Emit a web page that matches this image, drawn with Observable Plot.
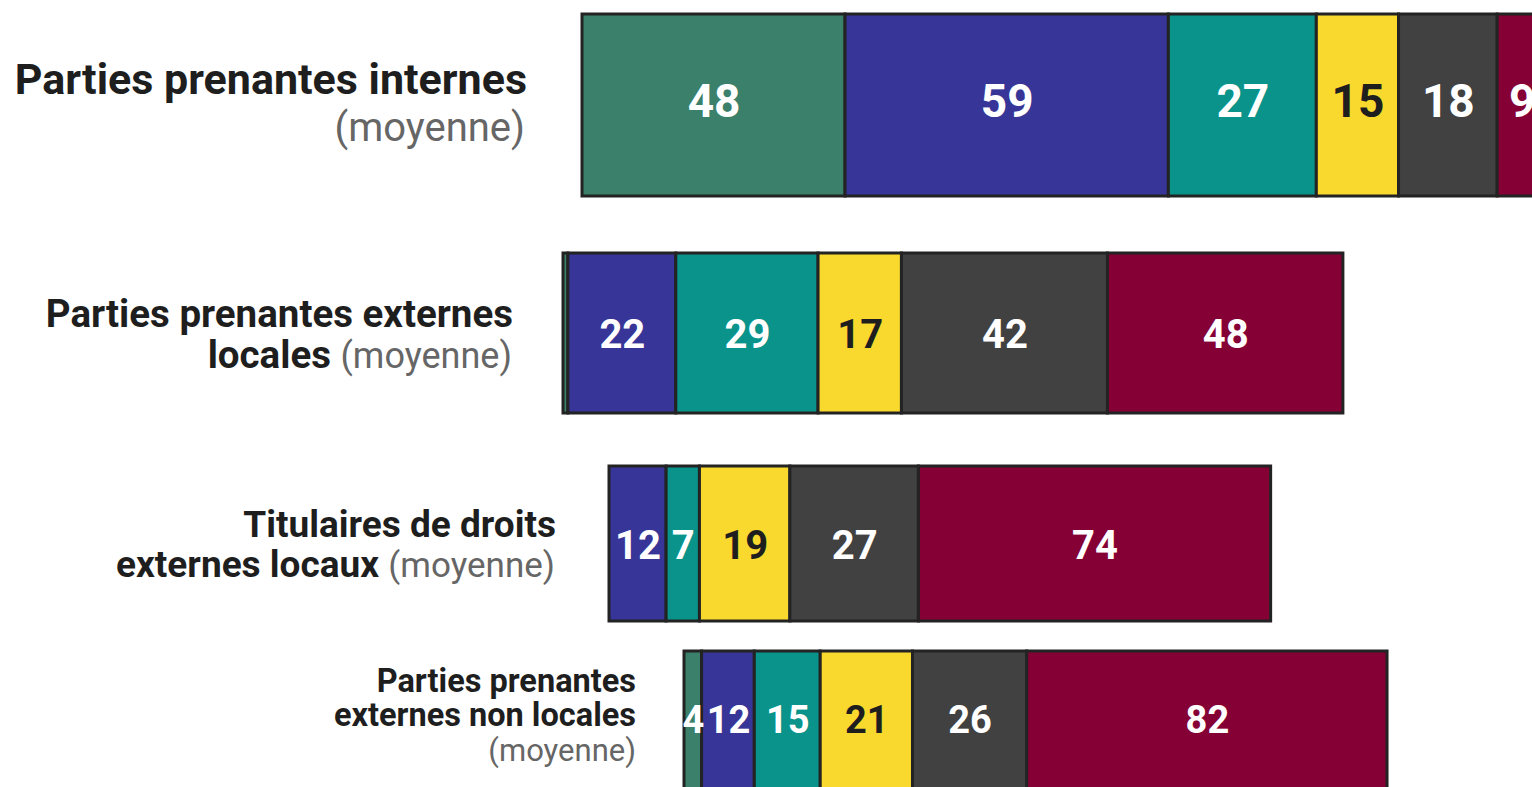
<!DOCTYPE html>
<html><head><meta charset="utf-8">
<script src="https://cdn.jsdelivr.net/npm/d3@7"></script>
<script src="https://cdn.jsdelivr.net/npm/@observablehq/plot@0.6"></script>
<style>
html,body{margin:0;padding:0;background:#fff;overflow:hidden;}
#chart{position:relative;width:1532px;height:787px;overflow:hidden;}
#chart svg{position:absolute;left:0;top:0;}
.lab{position:absolute;text-align:right;white-space:nowrap;font-family:Roboto,sans-serif;color:#1e1e1e;font-weight:700;}
.m{font-weight:400;color:#666;}
span.m{display:inline-block;line-height:0.9;}
</style></head><body><div id="chart"></div>
<script>
// ---- data ----
const rows = ["Parties prenantes internes", "Parties prenantes externes locales", "Titulaires de droits externes locaux", "Parties prenantes externes non locales"];
const categories = ["A", "B", "C", "D", "E", "F"];
const internes = [48, 59, 27, 15, 18, 9];
const externesLocales = [1, 22, 29, 17, 42, 48];
const titulaires = [0, 12, 7, 19, 27, 74];
const nonLocales = [4, 12, 15, 21, 26, 82];
const series = [internes, externesLocales, titulaires, nonLocales];

// ---- styles / layout ----
const palette = ["#3a806b", "#373597", "#09938a", "#f9d92e", "#414141", "#850035"];
const layout = [
  {x0: 582, k: 5.48, y: [13.5, 195.5], font: 46, dy: -3},
  {x0: 563, k: 4.905, y: [252.5, 412.5], font: 40, dy: 2},
  {x0: 609, k: 4.76, y: [465.5, 620.5], font: 40, dy: 2},
  {x0: 684, k: 4.394, y: [650.5, 795], font: 38, dy: -3}
];
// baseline-positioned label lines
const labels = [
  {right: 1005, base: 94, size: 43, cls: "", html: "Parties prenantes internes"},
  {right: 1007, base: 142, size: 40, cls: "m", html: "(moyenne)"},
  {right: 1019, base: 327, size: 38.5, cls: "", html: "Parties prenantes externes"},
  {right: 1020, base: 368, size: 38.5, cls: "", html: "locales <span class='m' style='font-size:36px'>(moyenne)</span>"},
  {right: 976, base: 537, size: 37, cls: "", html: "Titulaires de droits"},
  {right: 977, base: 577, size: 37, cls: "", html: "externes locaux <span class='m' style='font-size:35px'>(moyenne)</span>"},
  {right: 896, base: 692.5, size: 32.5, cls: "", html: "Parties prenantes"},
  {right: 896, base: 727, size: 32.5, cls: "", html: "externes non locales"},
  {right: 896, base: 762, size: 31, cls: "m", html: "(moyenne)"}
];

const chart = document.getElementById("chart");

series.forEach((vals, i) => {
  const L = layout[i];
  const data = categories
    .map((c, j) => ({row: rows[i], cat: c, value: vals[j]}))
    .filter(d => d.value > 0);
  const plot = Plot.plot({
    width: 1532,
    height: 787,
    margin: 0,
    style: {background: "transparent", overflow: "visible"},
    x: {type: "linear", domain: [0, 1], range: [L.x0, L.x0 + L.k], axis: null},
    y: {type: "band", domain: [rows[i]], range: L.y, padding: 0, axis: null},
    color: {domain: categories, range: palette},
    marks: [
      Plot.barX(data, Plot.stackX({x: "value", y: "row", fill: "cat", stroke: "#232323", strokeWidth: 3})),
      Plot.text(data, Plot.stackX({x: "value", y: "row",
        text: d => (d.cat !== "D" && d.value >= 2) ? String(d.value) : "",
        fill: "white", fontSize: L.font, fontWeight: 700, fontFamily: "Roboto, sans-serif", dy: L.dy})),
      Plot.text(data, Plot.stackX({x: "value", y: "row",
        text: d => (d.cat === "D") ? String(d.value) : "",
        fill: "#1e1e1e", fontSize: L.font, fontWeight: 700, fontFamily: "Roboto, sans-serif", dy: L.dy}))
    ]
  });
  chart.appendChild(plot);
});

labels.forEach(l => {
  const div = document.createElement("div");
  div.className = "lab " + l.cls;
  const lh = l.size * 0.9;
  // baseline = top + (lh - 1.171*size)/2 + 0.927*size  (Roboto metrics)
  const top = l.base - (lh - 1.171 * l.size) / 2 - 0.927 * l.size;
  div.style.right = l.right + "px";
  div.style.top = top + "px";
  div.style.fontSize = l.size + "px";
  div.style.lineHeight = lh + "px";
  div.innerHTML = l.html;
  chart.appendChild(div);
});
</script>
</body></html>
